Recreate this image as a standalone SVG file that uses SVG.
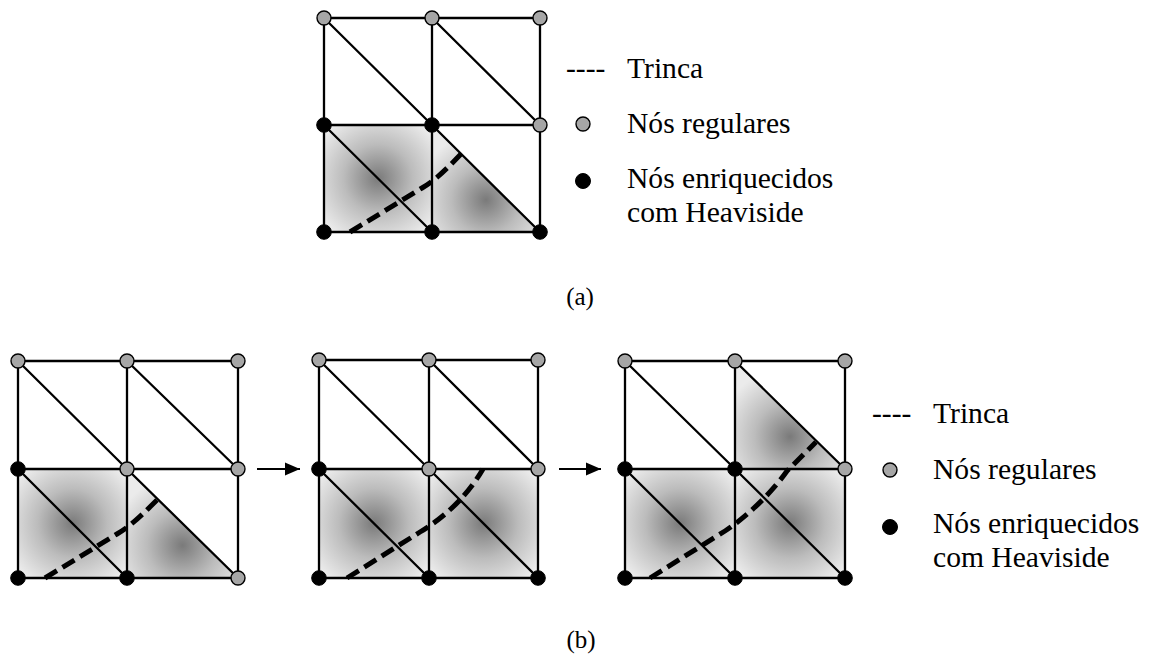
<svg xmlns="http://www.w3.org/2000/svg" width="1157" height="659" viewBox="0 0 1157 659">
<style>
.grid{stroke:#000;stroke-width:2.3;fill:none;stroke-linecap:round}
.crack{stroke:#000;stroke-width:5;fill:none;stroke-dasharray:14 6.5}
.ng{fill:#a6a6a6;stroke:#000;stroke-width:1.4}
.nb{fill:#000;stroke:#000;stroke-width:1}
.t{font-family:"Liberation Serif","Times New Roman",serif;font-size:29.6px;fill:#000}
.cap{font-family:"Liberation Serif","Times New Roman",serif;font-size:25px;fill:#000;text-anchor:middle}
.sq{fill:url(#gs)}
.tr{fill:url(#gt)}
.arr{stroke:#000;stroke-width:1.8;marker-end:url(#ah)}
</style>
<defs>
<radialGradient id="gs" cx="0.5" cy="0.5" r="0.64">
<stop offset="0" stop-color="#7a7a7a"/>
<stop offset="0.5" stop-color="#bcbcbc"/>
<stop offset="1" stop-color="#ebebeb"/>
</radialGradient>
<radialGradient id="gt" cx="0.5" cy="0.7" r="0.64">
<stop offset="0" stop-color="#7a7a7a"/>
<stop offset="0.5" stop-color="#bcbcbc"/>
<stop offset="1" stop-color="#ebebeb"/>
</radialGradient>
<marker id="ah" markerUnits="userSpaceOnUse" markerWidth="16" markerHeight="14" refX="15" refY="7" orient="auto">
<path d="M0,0.5 L15,7 L0,13.5 z" fill="#000"/>
</marker>
</defs>

<!-- (a) -->
<g id="grid-a">
<rect class="sq" x="324" y="125" width="108" height="107"/>
<polygon class="tr" points="432,125 540,232 432,232"/>
<path class="grid" d="M324,18H540M324,125H540M324,232H540M324,18V232M432,18V232M540,18V232M324,18L432,125M432,18L540,125M324,125L432,232M432,125L540,232"/>
<path class="crack" d="M350,232 L422,188 C432,182 440,176 462,153"/>
<circle class="ng" cx="324" cy="18" r="7"/><circle class="ng" cx="432" cy="18" r="7"/><circle class="ng" cx="540" cy="18" r="7"/>
<circle class="nb" cx="324" cy="125" r="7.3"/><circle class="nb" cx="432" cy="125" r="7.3"/><circle class="ng" cx="540" cy="125" r="7"/>
<circle class="nb" cx="324" cy="232" r="7.3"/><circle class="nb" cx="432" cy="232" r="7.3"/><circle class="nb" cx="540" cy="232" r="7.3"/>
</g>
<g id="legend-a">
<text class="t" x="566" y="78">----</text>
<text class="t" x="627" y="78">Trinca</text>
<circle class="ng" cx="583" cy="124" r="7"/>
<text class="t" x="627" y="133">Nós regulares</text>
<circle class="nb" cx="583" cy="181" r="7.5"/>
<text class="t" x="627" y="188">Nós enriquecidos</text>
<text class="t" x="627" y="222">com Heaviside</text>
</g>
<text id="cap-a" class="cap" x="580" y="305">(a)</text>

<!-- (b1) -->
<g id="grid-b1">
<rect class="sq" x="18" y="469" width="109" height="109"/>
<polygon class="tr" points="127,469 238,578 127,578"/>
<path class="grid" d="M18,361H238M18,469H238M18,578H238M18,361V578M127,361V578M238,361V578M18,361L127,469M127,361L238,469M18,469L127,578M127,469L238,578"/>
<path class="crack" d="M45,578 L117,534 C127,528 135,522 157,500"/>
<circle class="ng" cx="18" cy="361" r="7"/><circle class="ng" cx="127" cy="361" r="7"/><circle class="ng" cx="238" cy="361" r="7"/>
<circle class="nb" cx="18" cy="469" r="7.3"/><circle class="ng" cx="127" cy="469" r="7"/><circle class="ng" cx="238" cy="469" r="7"/>
<circle class="nb" cx="18" cy="578" r="7.3"/><circle class="nb" cx="127" cy="578" r="7.3"/><circle class="ng" cx="238" cy="578" r="7"/>
</g>

<!-- (b2) -->
<g id="grid-b2">
<rect class="sq" x="319" y="469" width="110" height="109"/>
<rect class="sq" x="429" y="469" width="109" height="109"/>
<path class="grid" d="M319,360H538M319,469H538M319,578H538M319,360V578M429,360V578M538,360V578M319,360L429,469M429,360L538,469M319,469L429,578M429,469L538,578"/>
<path class="crack" d="M347,578 L420,532 C440,520 465,500 483,469"/>
<circle class="ng" cx="319" cy="360" r="7"/><circle class="ng" cx="429" cy="360" r="7"/><circle class="ng" cx="538" cy="360" r="7"/>
<circle class="nb" cx="319" cy="469" r="7.3"/><circle class="ng" cx="429" cy="469" r="7"/><circle class="ng" cx="538" cy="469" r="7"/>
<circle class="nb" cx="319" cy="578" r="7.3"/><circle class="nb" cx="429" cy="578" r="7.3"/><circle class="nb" cx="538" cy="578" r="7.3"/>
</g>

<!-- (b3) -->
<g id="grid-b3">
<rect class="sq" x="625" y="469" width="110" height="109"/>
<rect class="sq" x="735" y="469" width="110" height="109"/>
<polygon class="tr" points="735,361 845,469 735,469"/>
<path class="grid" d="M625,361H845M625,469H845M625,578H845M625,361V578M735,361V578M845,361V578M625,361L735,469M735,361L845,469M625,469L735,578M735,469L845,578"/>
<path class="crack" d="M650,578 L725,531 C745,518 770,495 787,471 L816,442"/>
<circle class="ng" cx="625" cy="361" r="7"/><circle class="ng" cx="735" cy="361" r="7"/><circle class="ng" cx="845" cy="361" r="7"/>
<circle class="nb" cx="625" cy="469" r="7.3"/><circle class="nb" cx="735" cy="469" r="7.3"/><circle class="ng" cx="845" cy="469" r="7"/>
<circle class="nb" cx="625" cy="578" r="7.3"/><circle class="nb" cx="735" cy="578" r="7.3"/><circle class="nb" cx="845" cy="578" r="7.3"/>
</g>

<g id="connectors">
<line class="arr" x1="257" y1="469" x2="300" y2="469"/>
<line class="arr" x1="559" y1="469" x2="601" y2="469"/>
</g>

<g id="legend-b">
<text class="t" x="872" y="423">----</text>
<text class="t" x="933" y="423">Trinca</text>
<circle class="ng" cx="890" cy="470" r="7"/>
<text class="t" x="933" y="479">Nós regulares</text>
<circle class="nb" cx="890" cy="527" r="7.5"/>
<text class="t" x="933" y="533">Nós enriquecidos</text>
<text class="t" x="933" y="567">com Heaviside</text>
</g>
<text id="cap-b" class="cap" x="581" y="648">(b)</text>
</svg>
